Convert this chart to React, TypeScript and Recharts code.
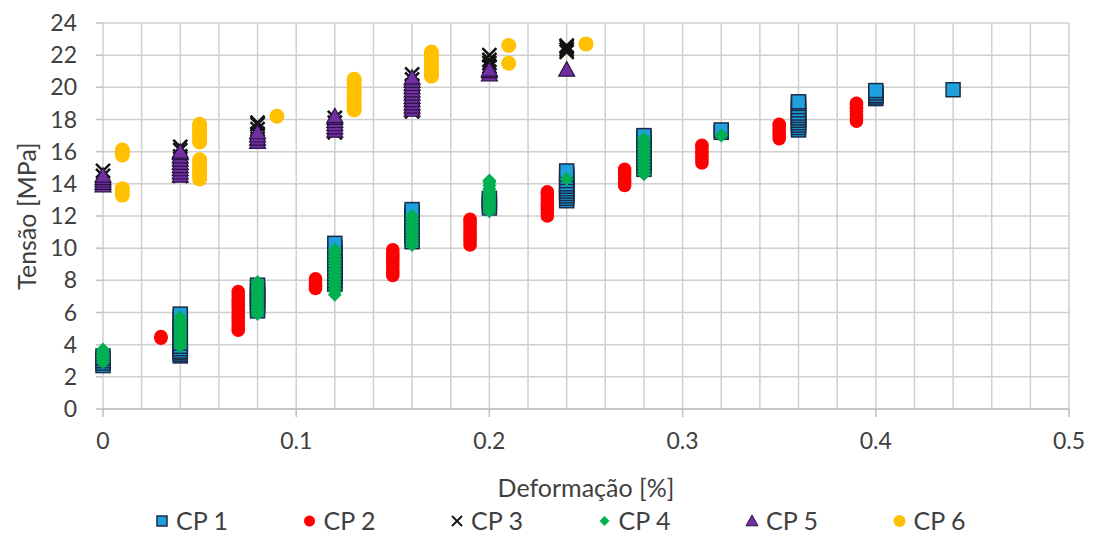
import React from 'react';
import { ScatterChart, Scatter, XAxis, YAxis, CartesianGrid, Legend, Label } from 'recharts';

type P = { x: number; y: number };

const xTicks = [0, 0.1, 0.2, 0.3, 0.4, 0.5];
const yTicks = [0, 2, 4, 6, 8, 10, 12, 14, 16, 18, 20, 22, 24];
const xGridValues = [0, 0.02, 0.04, 0.06, 0.08, 0.1, 0.12, 0.14, 0.16, 0.18, 0.2, 0.22, 0.24, 0.26, 0.28, 0.3, 0.32, 0.34, 0.36, 0.38, 0.4, 0.42, 0.44, 0.46, 0.48, 0.5];
const seriesNames = ['CP 1', 'CP 2', 'CP 3', 'CP 4', 'CP 5', 'CP 6'];

// helper to build points of one column from read values
const col = (x: number, ys: number[]): P[] => ys.map((y) => ({ x, y }));

const cp1: P[] = [
  ...col(0, [2.7, 2.85, 3.0, 3.15, 3.3]),
  ...col(0.04, [3.3, 3.4, 3.5, 3.6, 3.75, 3.9, 4.1, 4.3, 4.5, 4.7, 4.9, 5.1, 5.3, 5.5, 5.7, 5.9]),
  ...col(0.08, [6.1, 6.3, 6.5, 6.7, 6.9, 7.1, 7.3, 7.5, 7.7]),
  ...col(0.12, [7.75, 7.85, 8.0, 8.2, 8.4, 8.6, 8.8, 9.0, 9.2, 9.4, 9.6, 9.8, 10.0, 10.3]),
  ...col(0.16, [10.4, 10.6, 10.8, 11.0, 11.2, 11.4, 11.6, 11.8, 12.0, 12.2, 12.4]),
  ...col(0.2, [12.5, 12.7, 12.9, 13.1]),
  ...col(0.24, [12.95, 13.1, 13.25, 13.4, 13.55, 13.7, 13.85, 14.0, 14.2, 14.4, 14.6, 14.8]),
  ...col(0.28, [14.9, 15.1, 15.3, 15.5, 15.7, 15.9, 16.1, 16.3, 16.5, 16.7, 16.9, 17.0]),
  ...col(0.32, [17.2, 17.35]),
  ...col(0.36, [17.35, 17.5, 17.65, 17.8, 17.95, 18.1, 18.25, 18.4, 18.6, 18.8, 19.0, 19.1]),
  ...col(0.4, [19.3, 19.4, 19.5, 19.65, 19.8]),
  ...col(0.44, [19.85]),
];

const cp2: P[] = [
  ...col(0.03, [4.4, 4.5]),
  ...col(0.07, [4.9, 5.1, 5.3, 5.5, 5.7, 5.9, 6.1, 6.3, 6.5, 6.7, 6.9, 7.1, 7.3]),
  ...col(0.11, [7.5, 7.7, 7.9, 8.1]),
  ...col(0.15, [8.3, 8.5, 8.7, 8.9, 9.1, 9.3, 9.5, 9.7, 9.9]),
  ...col(0.19, [10.2, 10.4, 10.6, 10.8, 11.0, 11.2, 11.4, 11.6, 11.8]),
  ...col(0.23, [12.0, 12.2, 12.4, 12.6, 12.8, 13.0, 13.2, 13.4, 13.5]),
  ...col(0.27, [13.9, 14.1, 14.3, 14.5, 14.7, 14.9]),
  ...col(0.31, [15.3, 15.5, 15.7, 15.9, 16.1, 16.3, 16.4]),
  ...col(0.35, [16.8, 17.0, 17.2, 17.4, 17.6, 17.7]),
  ...col(0.39, [17.9, 18.1, 18.3, 18.5, 18.7, 18.9, 19.0]),
];

const cp3: P[] = [
  ...col(0, [14.5, 14.8]),
  ...col(0.04, [14.5, 14.9, 15.3, 15.7, 16.1, 16.3]),
  ...col(0.08, [16.8, 17.1, 17.4, 17.7, 17.8]),
  ...col(0.12, [17.2, 17.5, 17.8, 18.1]),
  ...col(0.16, [18.5, 18.9, 19.3, 19.7, 20.1, 20.5, 20.8]),
  ...col(0.2, [21.3, 21.5, 21.7, 22.0]),
  ...col(0.24, [22.2, 22.35, 22.5, 22.6]),
];

const cp4: P[] = [
  ...col(0, [2.9, 3.1, 3.3, 3.5, 3.7]),
  ...col(0.04, [3.9, 4.1, 4.3, 4.5, 4.7, 4.9, 5.1, 5.3, 5.5, 5.7]),
  ...col(0.08, [5.9, 6.1, 6.3, 6.5, 6.7, 6.9, 7.1, 7.3, 7.5, 7.7, 7.9]),
  ...col(0.12, [7.1, 7.3, 7.5, 7.7, 7.9, 8.1, 8.3, 8.5, 8.7, 8.9, 9.1, 9.3, 9.5, 9.7, 9.9]),
  ...col(0.16, [10.2, 10.4, 10.6, 10.8, 11.0, 11.2, 11.4, 11.6, 11.8, 12.0]),
  ...col(0.2, [12.3, 12.5, 12.7, 12.9, 13.1, 13.3, 13.5, 13.7, 13.9, 14.1, 14.2]),
  ...col(0.24, [14.3]),
  ...col(0.28, [14.6, 14.8, 15.0, 15.2, 15.4, 15.6, 15.8, 16.0, 16.2, 16.4, 16.6, 16.8]),
  ...col(0.32, [17.0]),
];

const cp5: P[] = [
  ...col(0, [13.9, 14.05, 14.2, 14.35, 14.5]),
  ...col(0.04, [14.5, 14.7, 14.9, 15.1, 15.3, 15.5, 15.7, 15.9, 16.0]),
  ...col(0.08, [16.6, 16.8, 17.0, 17.2]),
  ...col(0.12, [17.3, 17.5, 17.7, 17.9, 18.1, 18.2]),
  ...col(0.16, [18.6, 18.8, 19.0, 19.2, 19.4, 19.6, 19.8, 20.0, 20.2, 20.4, 20.6]),
  ...col(0.2, [20.8, 21.0, 21.1]),
  ...col(0.24, [21.1]),
];

const cp6: P[] = [
  ...col(0.01, [13.3, 13.5, 13.7, 15.8, 16.0, 16.1]),
  ...col(0.05, [14.3, 14.5, 14.7, 14.9, 15.1, 15.3, 15.5, 16.6, 16.8, 17.0, 17.2, 17.4, 17.6, 17.7]),
  ...col(0.09, [18.2]),
  ...col(0.13, [18.6, 18.8, 19.0, 19.2, 19.4, 19.6, 19.8, 20.0, 20.2, 20.4, 20.5]),
  ...col(0.17, [20.7, 20.9, 21.1, 21.3, 21.5, 21.7, 21.9, 22.1, 22.2]),
  ...col(0.21, [21.5, 22.6]),
  ...col(0.25, [22.7]),
];

const FONT = 'Lato, "Open Sans", sans-serif';
const TEXT = '#404040';
const GRID = '#cfcfcf';

const C1 = '#1ea0dc';
const C1S = '#1b2a47';
const C2 = '#ff0000';
const C3 = '#111111';
const C4 = '#00b050';
const C5 = '#7030a0';
const C5S = '#2a1245';
const C6 = '#ffc000';

const drawSquare = (cx: number, cy: number, s: number, sw: number) => (
  <rect x={cx - s / 2} y={cy - s / 2} width={s} height={s} fill={C1} stroke={C1S} strokeWidth={sw} />
);
const drawCircle = (cx: number, cy: number, r: number, color: string) => <circle cx={cx} cy={cy} r={r} fill={color} />;
const drawCross = (cx: number, cy: number, h: number, sw: number) => (
  <path d={`M${cx - h},${cy - h}L${cx + h},${cy + h}M${cx - h},${cy + h}L${cx + h},${cy - h}`} stroke={C3} strokeWidth={sw} fill="none" />
);
const drawDiamond = (cx: number, cy: number, h: number) => (
  <path d={`M${cx},${cy - h}L${cx + h},${cy}L${cx},${cy + h}L${cx - h},${cy}Z`} fill={C4} />
);
const drawTriangle = (cx: number, cy: number, h: number, sw: number) => (
  <path d={`M${cx},${cy - h}L${cx + h},${cy + h * 0.8}L${cx - h},${cy + h * 0.8}Z`} fill={C5} stroke={C5S} strokeWidth={sw} />
);

const SquareShape = (p: any) => (p.cx == null ? null : drawSquare(p.cx, p.cy, 14, 1.5));
const RedShape = (p: any) => (p.cx == null ? null : drawCircle(p.cx, p.cy, 6.8, C2));
const CrossShape = (p: any) => (p.cx == null ? null : drawCross(p.cx, p.cy, 7, 2.5));
const DiamondShape = (p: any) => (p.cx == null ? null : drawDiamond(p.cx, p.cy, 7));
const TriangleShape = (p: any) => (p.cx == null ? null : drawTriangle(p.cx, p.cy, 8, 1.2));
const YellowShape = (p: any) => (p.cx == null ? null : drawCircle(p.cx, p.cy, 7.5, C6));

const legendMarkers = [
  (x: number, y: number) => drawSquare(x, y, 10, 1.5),
  (x: number, y: number) => drawCircle(x, y, 5.5, C2),
  (x: number, y: number) => drawCross(x, y, 5, 1.8),
  (x: number, y: number) => drawDiamond(x, y, 5),
  (x: number, y: number) => drawTriangle(x, y, 6, 1),
  (x: number, y: number) => drawCircle(x, y, 6, C6),
];

const renderLegend = () => (
  <svg width={1093} height={32} style={{ display: 'block' }}>
    {seriesNames.map((name, i) => {
      const mx = 162 + i * 147.5;
      return (
        <g key={name}>
          {legendMarkers[i](mx, 16)}
          <text x={mx + 14} y={16} dy="0.36em" fontFamily={FONT} fontSize={25} fill={TEXT}>
            {name}
          </text>
        </g>
      );
    })}
  </svg>
);

const YTitle = (props: any) => {
  const vb = props.viewBox || {};
  const cy = (vb.y || 0) + (vb.height || 0) / 2;
  return (
    <text x={27} y={cy} transform={`rotate(-90 27 ${cy})`} textAnchor="middle" dy="0.36em" fontFamily={FONT} fontSize={25} fill={TEXT}>
      Tensão [MPa]
    </text>
  );
};

const XTitle = (props: any) => {
  const vb = props.viewBox || {};
  const cx = (vb.x || 0) + (vb.width || 0) / 2;
  return (
    <text x={cx} y={(vb.y || 0) + 88} textAnchor="middle" fontFamily={FONT} fontSize={25} fill={TEXT}>
      Deformação [%]
    </text>
  );
};

export default function App() {
  return (
    <div style={{ position: 'absolute', left: 0, top: 0, width: 1093, height: 539, background: '#fff' }}>
      <ScatterChart width={1093} height={539} margin={{ top: 23, right: 24, bottom: 35, left: 0 }}>
        <CartesianGrid stroke={GRID} strokeWidth={1.5} verticalValues={xGridValues} horizontalValues={yTicks} />
        <XAxis
          type="number"
          dataKey="x"
          domain={[0, 0.5]}
          ticks={xTicks}
          interval={0}
          height={95}
          tickSize={8}
          tickMargin={16}
          axisLine={{ stroke: '#bfbfbf', strokeWidth: 1.5 }}
          tickLine={{ stroke: '#bfbfbf', strokeWidth: 1.5 }}
          tick={{ fill: TEXT, fontSize: 23, fontFamily: FONT }}
        >
          <Label content={XTitle} />
        </XAxis>
        <YAxis
          type="number"
          dataKey="y"
          domain={[0, 24]}
          ticks={yTicks}
          interval={0}
          width={103}
          tickSize={7}
          tickMargin={19}
          axisLine={false}
          tickLine={{ stroke: '#bfbfbf', strokeWidth: 1.5 }}
          tick={{ fill: TEXT, fontSize: 23, fontFamily: FONT }}
        >
          <Label content={YTitle} />
        </YAxis>
        <Legend
          layout="horizontal"
          verticalAlign="middle"
          align="center"
          content={renderLegend}
          wrapperStyle={{ left: 0, top: 505, width: 1093, height: 32 }}
        />
        <Scatter name="CP 1" data={cp1} shape={SquareShape} isAnimationActive={false} />
        <Scatter name="CP 2" data={cp2} shape={RedShape} isAnimationActive={false} />
        <Scatter name="CP 3" data={cp3} shape={CrossShape} isAnimationActive={false} />
        <Scatter name="CP 4" data={cp4} shape={DiamondShape} isAnimationActive={false} />
        <Scatter name="CP 5" data={cp5} shape={TriangleShape} isAnimationActive={false} />
        <Scatter name="CP 6" data={cp6} shape={YellowShape} isAnimationActive={false} />
      </ScatterChart>
    </div>
  );
}
